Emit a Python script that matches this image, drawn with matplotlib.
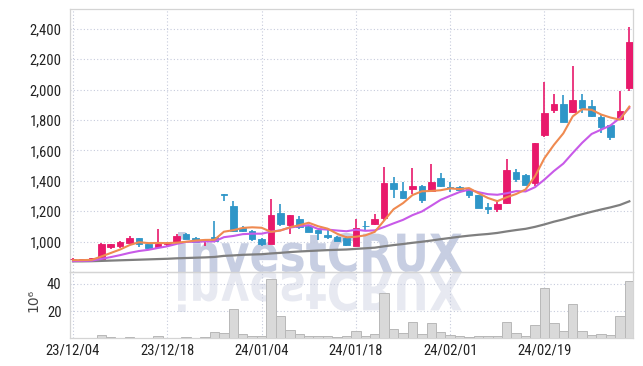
import matplotlib
matplotlib.use("Agg")
import matplotlib.pyplot as plt
from matplotlib import font_manager as fm
from matplotlib.textpath import TextPath
from matplotlib.patches import PathPatch
from matplotlib.font_manager import FontProperties
from matplotlib.transforms import Affine2D

# ---------------- data ----------------
dates = [
    "23/12/04", "23/12/05", "23/12/06", "23/12/07", "23/12/08", "23/12/11", "23/12/12", "23/12/13",
    "23/12/14", "23/12/15", "23/12/18", "23/12/19", "23/12/20", "23/12/21", "23/12/22", "23/12/26",
    "23/12/27", "23/12/28", "24/01/02", "24/01/03", "24/01/04", "24/01/05", "24/01/08", "24/01/09",
    "24/01/10", "24/01/11", "24/01/12", "24/01/15", "24/01/16", "24/01/17", "24/01/18", "24/01/19",
    "24/01/22", "24/01/23", "24/01/24", "24/01/25", "24/01/26", "24/01/29", "24/01/30", "24/01/31",
    "24/02/01", "24/02/02", "24/02/05", "24/02/06", "24/02/07", "24/02/08", "24/02/13", "24/02/14",
    "24/02/15", "24/02/16", "24/02/19", "24/02/20", "24/02/21", "24/02/22", "24/02/23", "24/02/26",
    "24/02/27", "24/02/28", "24/02/29", "24/03/04",
]
open_ = [884, 880, 874, 880, 962, 968, 994, 1024, 985, 962,
         982, 1000, 1052, 1026, 1005, 1030, 1310, 1232, 1089, 1071,
         1020, 987, 1186, 1108, 1146, 1100, 1073, 1045, 1033, 1025,
         970, 1103, 1113, 1157, 1385, 1334, 1345, 1365, 1334, 1418,
         1356, 1356, 1345, 1305, 1228, 1212, 1252, 1456, 1438, 1383,
         1702, 1866, 1906, 1855, 1932, 1893, 1822, 1767, 1807, 2013]
high = [891, 884, 892, 988, 986, 1002, 1035, 1026, 987, 1084,
        995, 1050, 1054, 1032, 1015, 1137, 1312, 1264, 1104, 1073,
        1021, 1283, 1245, 1175, 1168, 1102, 1075, 1084, 1035, 1040,
        1150, 1135, 1180, 1489, 1423, 1389, 1482, 1370, 1510, 1451,
        1394, 1367, 1347, 1306, 1257, 1273, 1541, 1476, 1445, 1650,
        2053, 1972, 1963, 2156, 1972, 1932, 1830, 1770, 1993, 2411]
low = [878, 876, 872, 878, 953, 955, 992, 967, 950, 960,
       968, 996, 1015, 998, 972, 998, 1265, 1064, 1064, 1007,
       968, 985, 1100, 1053, 1080, 1062, 1013, 1018, 1005, 973,
       968, 1075, 1110, 1135, 1290, 1279, 1312, 1257, 1325, 1356,
       1327, 1338, 1290, 1222, 1179, 1196, 1250, 1394, 1370, 1368,
       1690, 1845, 1786, 1845, 1845, 1818, 1713, 1669, 1800, 1993]
close = [886, 882, 891, 985, 984, 1000, 1025, 985, 956, 987,
         992, 1040, 1018, 1000, 1007, 1002, 1305, 1068, 1068, 1020,
         987, 1172, 1113, 1172, 1097, 1066, 1058, 1032, 1007, 975,
         1090, 1100, 1146, 1385, 1345, 1290, 1365, 1272, 1394, 1367,
         1350, 1342, 1305, 1224, 1212, 1247, 1471, 1412, 1372, 1647,
         1845, 1906, 1789, 1932, 1881, 1827, 1752, 1690, 1860, 2312]
ma5 = [878, 878, 880, 902, 925, 948, 977, 996, 990, 991,
       990, 993, 999, 1007, 1011, 1012, 1065, 1075, 1090, 1094,
       1091, 1064, 1073, 1094, 1108, 1124, 1101, 1085, 1052, 1028,
       1032, 1041, 1064, 1139, 1213, 1253, 1306, 1331, 1333, 1338,
       1350, 1345, 1352, 1318, 1287, 1266, 1292, 1313, 1343, 1430,
       1549, 1636, 1712, 1824, 1871, 1867, 1836, 1816, 1802, 1888]
ma10 = [872, 873, 875, 886, 898, 911, 926, 938, 946, 958,
        969, 985, 998, 999, 1001, 1001, 1029, 1037, 1049, 1052,
        1052, 1065, 1074, 1092, 1101, 1108, 1083, 1079, 1073, 1068,
        1078, 1071, 1074, 1096, 1120, 1143, 1174, 1198, 1236, 1275,
        1301, 1326, 1342, 1325, 1312, 1308, 1318, 1332, 1330, 1358,
        1408, 1464, 1513, 1583, 1650, 1708, 1736, 1764, 1813, 1879]
ma60 = [870, 870, 871, 873, 875, 877, 879, 881, 883, 885,
        887, 890, 892, 894, 896, 899, 906, 909, 913, 915,
        917, 922, 926, 931, 935, 938, 941, 944, 946, 948,
        952, 956, 960, 969, 977, 984, 992, 999, 1007, 1016,
        1024, 1032, 1039, 1045, 1050, 1057, 1067, 1076, 1084, 1097,
        1113, 1131, 1146, 1164, 1180, 1196, 1211, 1225, 1241, 1265]
volume = [0.3, 0.3, 0.4, 2.4, 1.2, 0.3, 1.2, 0.3, 0.3, 2.0,
          0.3, 0.4, 1.2, 0.5, 1.2, 4.6, 4.1, 21.7, 3.4, 2.0,
          2.0, 43.7, 16.3, 6.1, 2.9, 1.7, 1.7, 1.7, 1.2, 1.7,
          5.4, 1.7, 3.2, 32.9, 6.6, 3.9, 12.0, 3.2, 11.2, 4.6,
          2.7, 1.7, 1.2, 1.7, 1.7, 1.7, 12.0, 3.9, 1.7, 9.8,
          36.8, 11.2, 5.4, 25.1, 5.4, 2.4, 3.2, 2.4, 16.3, 42.0]
price_ticks = [1000, 1200, 1400, 1600, 1800, 2000, 2200, 2400]
vol_ticks = [20, 40]
label_every = 10

# ---------------- style ----------------
UP = "#e8196b"
DOWN = "#2f96c8"
C_MA5 = "#ef8a50"
C_MA10 = "#c85ae8"
C_MA60 = "#7f7f7f"
GRID = "#c6cbdc"
SPINE = "#d4d4d4"
TXT = "#222222"

def pick_font(names):
    for n in names:
        try:
            fm.findfont(n, fallback_to_default=False)
            return n
        except Exception:
            continue
    return "DejaVu Sans"

tick_font = pick_font(["Liberation Sans Narrow", "Roboto Condensed", "DejaVu Sans"])

W, H = 643, 366
fig = plt.figure(figsize=(W / 100, H / 100), dpi=100)
fig.patch.set_facecolor("white")

L, R = 70, 633
ax = fig.add_axes([L / W, 1 - 272 / H, (R - L) / W, (272 - 9) / H])
axv = fig.add_axes([L / W, 1 - 338.3 / H, (R - L) / W, (338.3 - 272) / H], sharex=ax)
for a in (ax, axv):
    a.set_facecolor("none")
    for s in a.spines.values():
        s.set_color(SPINE)
        s.set_linewidth(0.9)
    a.grid(True, color=GRID, linestyle=(0, (1, 2)), linewidth=0.8)
    a.set_axisbelow(True)
    a.tick_params(length=0, colors=TXT, labelsize=10.5)

n = len(close)
x = list(range(n))

# candles
for i in x:
    o, c, h, l = open_[i], close[i], high[i], low[i]
    col = UP if c >= o else DOWN
    ax.vlines(i, l, h, color=col, linewidth=1.2, zorder=3)
    bot = min(o, c)
    ht = max(abs(c - o), 4)
    ax.bar(i, ht, bottom=bot, width=0.7, color=col, edgecolor=col, linewidth=0.6, zorder=4)

ax.plot(x, ma60, color=C_MA60, linewidth=1.6, zorder=5)
ax.plot(x, ma10, color=C_MA10, linewidth=1.5, zorder=6)
ax.plot(x, ma5, color=C_MA5, linewidth=1.5, zorder=7)

ax.set_xlim(-0.32, 59.39)
ax.set_ylim(800, 2530)
ax.set_yticks(price_ticks)
ax.set_yticklabels([f"{t:,}" for t in price_ticks], fontfamily=tick_font)
ax.tick_params(axis="y", pad=6)
ax.tick_params(axis="x", labelbottom=False)

axv.bar(x, volume, width=1.0, color="#d9d9d9", edgecolor="#b8b8b8", linewidth=0.7, zorder=3)
axv.set_ylim(0, 48.6)
axv.set_yticks(vol_ticks)
axv.set_yticklabels([str(t) for t in vol_ticks], fontfamily=tick_font)
axv.tick_params(axis="y", pad=6)
xt = list(range(0, n, label_every))
axv.set_xticks(xt)
axv.set_xticklabels([dates[i] for i in xt], fontfamily=tick_font)
axv.tick_params(axis="x", pad=4)

fig.text(33 / W, 1 - 300 / H, "10\u2076", rotation=90, ha="center", va="center",
         fontsize=10, color="#444444", family="DejaVu Sans")

# watermark "investCRUX" with reflection
tp = TextPath((0, 0), "investCRUX", size=100,
              prop=FontProperties(family="DejaVu Sans", weight="bold"))
ext = tp.get_extents()
x0, x1, base, top = 178, 462, H - 272, H - 232
sx = (x1 - x0) / ext.width
sy = (top - base) / ext.y1
px2fig = Affine2D().scale(1 / fig.dpi) + fig.dpi_scale_trans
t_main = Affine2D().translate(-ext.x0, 0).scale(sx, sy).translate(x0, base)
t_refl = Affine2D().translate(-ext.x0, 0).scale(sx, -sy).translate(x0, base)
fig.add_artist(PathPatch(t_main.transform_path(tp), transform=px2fig,
                         facecolor="#c7cee2", edgecolor="none", zorder=-1))
fig.add_artist(PathPatch(t_refl.transform_path(tp), transform=px2fig,
                         facecolor="#e7e9f1", edgecolor="none", zorder=-1))

fig.savefig("out.png", dpi=100, facecolor="white")
